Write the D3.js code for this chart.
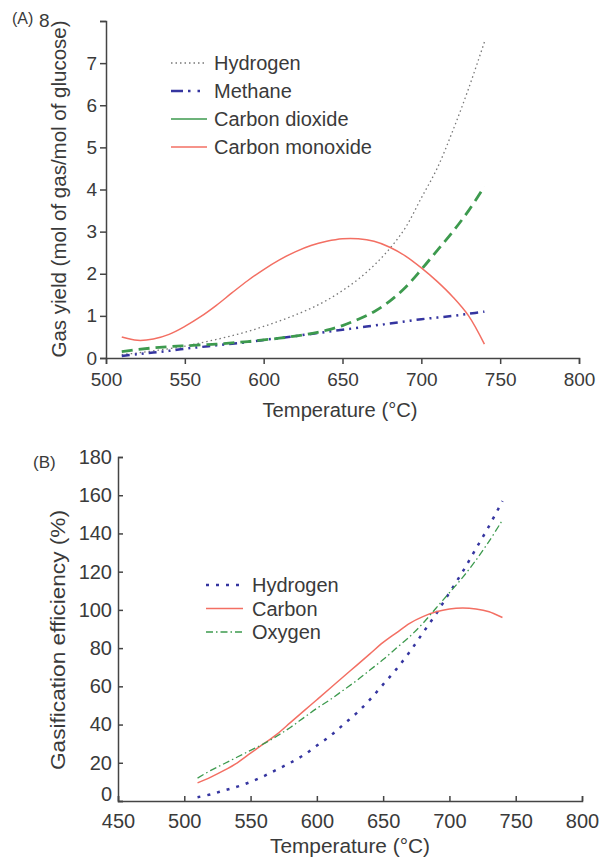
<!DOCTYPE html>
<html><head><meta charset="utf-8">
<script src="https://cdn.jsdelivr.net/npm/d3@7"></script>
<style>
body{margin:0;background:#fff;}
text{font-family:"Liberation Sans",Arial,sans-serif;fill:#3a3a3a;}
</style></head>
<body><svg id="c" width="601" height="862"></svg>
<script>
// Panel A data
const tempsA = [510,520,530,540,550,560,570,580,590,600,610,620,630,640,650,660,670,680,690,700,710,720,730,740];
const hydrogenA = [0.08,0.12,0.17,0.22,0.28,0.36,0.44,0.53,0.63,0.75,0.88,1.02,1.18,1.37,1.6,1.87,2.2,2.6,3.1,3.8,4.5,5.4,6.4,7.5];
const methaneA = [0.05,0.09,0.13,0.17,0.22,0.26,0.3,0.34,0.38,0.43,0.47,0.52,0.57,0.62,0.67,0.72,0.77,0.82,0.87,0.92,0.96,1.0,1.05,1.1];
const co2A = [0.15,0.2,0.24,0.27,0.29,0.31,0.33,0.36,0.39,0.43,0.47,0.52,0.58,0.66,0.77,0.92,1.1,1.35,1.68,2.1,2.55,3.0,3.5,4.07];
const coA = [0.5,0.42,0.45,0.56,0.75,0.98,1.25,1.55,1.84,2.1,2.33,2.52,2.67,2.77,2.83,2.83,2.77,2.63,2.42,2.14,1.82,1.45,1.0,0.33];
const xTicksA = [500,550,600,650,700,750,800];
const yTicksA = [0,1,2,3,4,5,6,7,8];
const legendA = ["Hydrogen","Methane","Carbon dioxide","Carbon monoxide"];

// Panel B data
const tempsB = [510,520,530,540,550,560,570,580,590,600,610,620,630,640,650,660,670,680,690,700,710,720,730,740];
const hydrogenB = [2,3.5,5.5,7.5,10,13,16.5,20,24,29,34,40,46,53,61,69,78,88,98,109,120,132,144,157];
const carbonB = [9.5,12.5,16,20,25,30,35,41,47,53,59,65,71,77,83,88,93,96.5,99,100.5,101,100.5,99,96];
const oxygenB = [12,16,19.5,23,26.5,30,34,38.5,43.5,48.5,53,58,63,68.5,74,80,86,93,101,109,117,126,136,147];
const xTicksB = [450,500,550,600,650,700,750,800];
const yTicksB = [0,20,40,60,80,100,120,140,160,180];
const legendB = ["Hydrogen","Carbon","Oxygen"];

const svg = d3.select("#c");
const axisColor = "#444";
const red = "#f36f63", green = "#3d9a4e", blue = "#3535a0", gray = "#777";

function styleAxis(fs){
  return g => {
    g.selectAll("path").attr("stroke", axisColor).attr("stroke-width",1.5);
    g.selectAll("line").attr("stroke", axisColor).attr("stroke-width",1.5);
    g.selectAll("text").attr("font-size",fs).attr("fill","#3a3a3a").style("font-family","'Liberation Sans',Arial,sans-serif");
  };
}

// ---------- Panel A ----------
const xA = d3.scaleLinear().domain([500,800]).range([106,579]);
const yA = d3.scaleLinear().domain([0,8]).range([358,21]);

svg.append("g").attr("transform","translate(0,358)")
  .call(d3.axisBottom(xA).tickValues(xTicksA).tickSizeOuter(0).tickSize(6).tickPadding(9))
  .call(styleAxis(19));
svg.append("g").attr("transform","translate(106,0)")
  .call(d3.axisLeft(yA).tickValues(yTicksA).tickSizeOuter(0).tickSize(6).tickPadding(3)
    .tickFormat(d => d===8 ? "" : d))
  .call(styleAxis(19));
svg.append("text").attr("x",12).attr("y",24).attr("font-size",16).text("(A)");
svg.append("text").attr("x",39).attr("y",27).attr("font-size",19).text("8");
svg.append("text").attr("transform","translate(66,189) rotate(-90)").attr("text-anchor","middle")
  .attr("font-size",20).attr("textLength",337).attr("lengthAdjust","spacingAndGlyphs")
  .text("Gas yield (mol of gas/mol of glucose)");
svg.append("text").attr("x",340).attr("y",417).attr("text-anchor","middle").attr("font-size",20)
  .attr("textLength",155).attr("lengthAdjust","spacingAndGlyphs").text("Temperature (°C)");

const lineA = arr => d3.line().x((d,i)=>xA(tempsA[i])).y(d=>yA(d)).curve(d3.curveCatmullRom)(arr);
const seriesA = [
  {data:hydrogenA, color:gray, w:1.3, dash:"1.5,3", legDash:"1.5,3", legW:1.3},
  {data:methaneA, color:blue, w:2.5, dash:"8,5,2,5,2,5", legDash:"12,5,2.5,7,2.5,30", legW:2.5},
  {data:co2A, color:green, w:2.8, dash:"11,6", legDash:null, legW:1.3},
  {data:coA, color:red, w:1.5, dash:null, legDash:null, legW:1.5}
];
seriesA.forEach(s=>{
  svg.append("path").attr("d",lineA(s.data)).attr("fill","none").attr("stroke",s.color)
    .attr("stroke-width",s.w).attr("stroke-dasharray",s.dash);
});
const legYA = [63, 91, 119, 147];
legendA.forEach((name,i)=>{
  const y = legYA[i];
  const s = seriesA[i];
  svg.append("line").attr("x1",171).attr("x2",207).attr("y1",y).attr("y2",y)
    .attr("stroke",s.color).attr("stroke-width",s.legW).attr("stroke-dasharray",s.legDash);
  svg.append("text").attr("x",214).attr("y",y+7).attr("font-size",20).text(name);
});

// ---------- Panel B ----------
const xB = d3.scaleLinear().domain([450,800]).range([118,582]);
const yB = d3.scaleLinear().domain([0,180]).range([801,457]);

svg.append("g").attr("transform","translate(0,801)")
  .call(d3.axisBottom(xB).tickValues(xTicksB).tickSizeOuter(0).tickSize(-5).tickPadding(13))
  .call(styleAxis(20));
svg.append("g").attr("transform","translate(118,0)")
  .call(d3.axisLeft(yB).tickValues(yTicksB).tickSizeOuter(0).tickSize(-5).tickPadding(6))
  .call(styleAxis(20))
  .call(g => g.selectAll(".tick text").filter(d => d===0).attr("dy","-0.05em"));
svg.append("text").attr("x",33).attr("y",468).attr("font-size",17).text("(B)");
svg.append("text").attr("transform","translate(65,640) rotate(-90)").attr("text-anchor","middle")
  .attr("font-size",20.5).attr("textLength",260).attr("lengthAdjust","spacingAndGlyphs")
  .text("Gasification efficiency (%)");
svg.append("text").attr("x",350).attr("y",853).attr("text-anchor","middle").attr("font-size",20.5)
  .attr("textLength",160).attr("lengthAdjust","spacingAndGlyphs").text("Temperature (°C)");

const lineB = arr => d3.line().x((d,i)=>xB(tempsB[i])).y(d=>yB(d)).curve(d3.curveCatmullRom)(arr);
const seriesB = [
  {data:hydrogenB, color:blue, w:2.5, dash:"3,7"},
  {data:carbonB, color:red, w:1.5, dash:null},
  {data:oxygenB, color:green, w:1.3, dash:"7,3,1.5,3"}
];
seriesB.forEach(s=>{
  svg.append("path").attr("d",lineB(s.data)).attr("fill","none").attr("stroke",s.color)
    .attr("stroke-width",s.w).attr("stroke-dasharray",s.dash);
});
legendB.forEach((name,i)=>{
  const y = 585 + i*23.5;
  const s = seriesB[i];
  svg.append("line").attr("x1",206).attr("x2",243).attr("y1",y).attr("y2",y)
    .attr("stroke",s.color).attr("stroke-width",s.w).attr("stroke-dasharray",s.dash);
  svg.append("text").attr("x",252).attr("y",y+7).attr("font-size",20).text(name);
});
</script></body></html>
